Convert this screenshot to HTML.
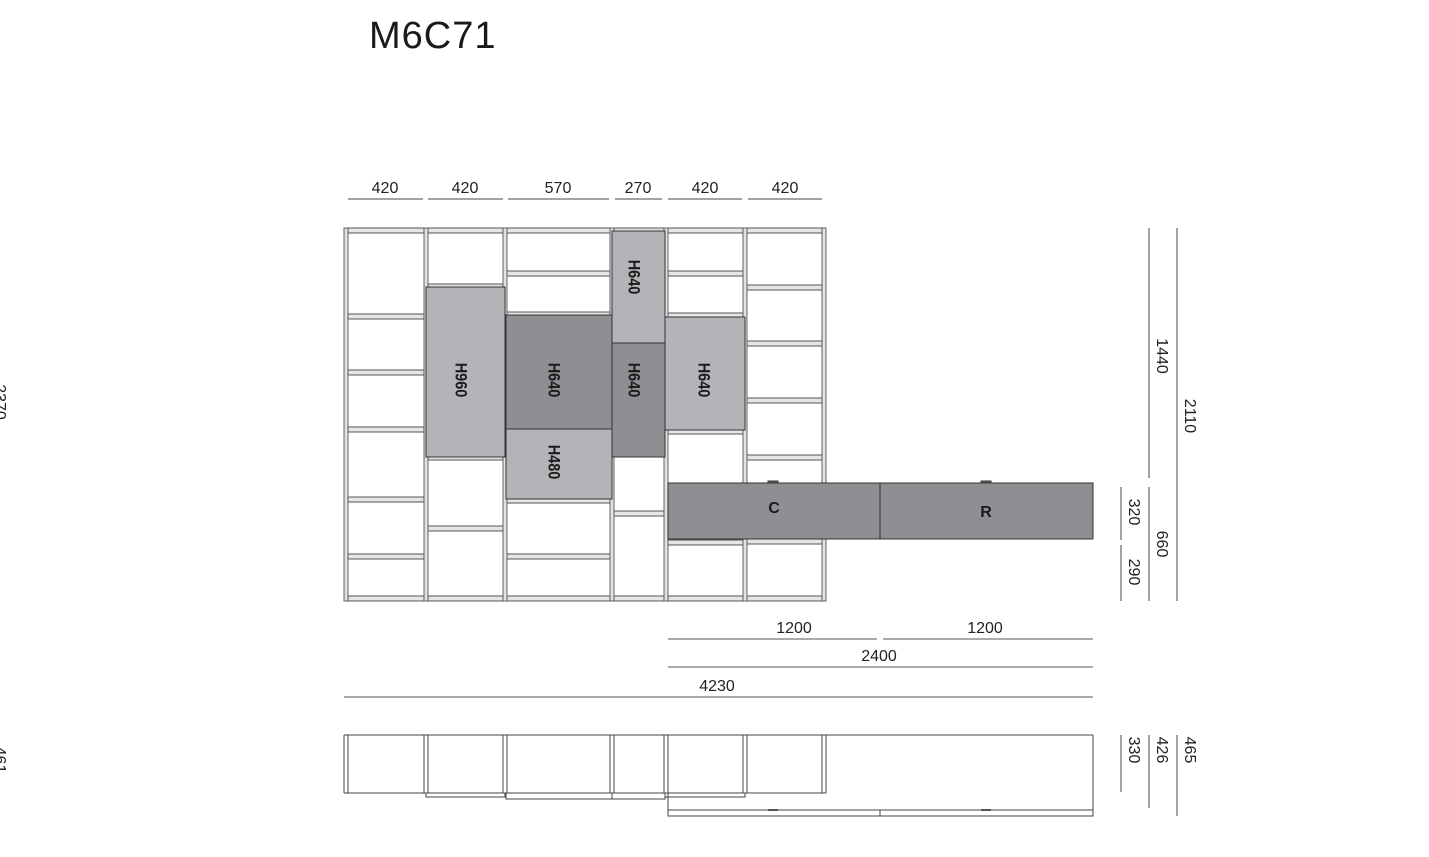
<!DOCTYPE html>
<html><head><meta charset="utf-8"><style>
html,body{margin:0;padding:0;background:#fff;width:1429px;height:857px;overflow:hidden}
svg{display:block}
.d{font-family:"Liberation Sans",sans-serif;font-size:16px;fill:#222}
.b{font-family:"Liberation Sans",sans-serif;font-size:17px;font-weight:bold;fill:#1a1a1a}
</style></head><body>
<svg width="1429" height="857" viewBox="0 0 1429 857" xmlns="http://www.w3.org/2000/svg">
<text x="369" y="48" font-family="Liberation Sans,sans-serif" font-size="38" letter-spacing="1" fill="#1a1a1a">M6C71</text>

<g stroke="#444" stroke-width="1">
<line x1="348" y1="199" x2="423" y2="199"/><line x1="428" y1="199" x2="503" y2="199"/>
<line x1="508" y1="199" x2="609" y2="199"/><line x1="615" y1="199" x2="662" y2="199"/>
<line x1="668" y1="199" x2="742" y2="199"/><line x1="748" y1="199" x2="822" y2="199"/>
</g>
<g class="d" text-anchor="middle">
<text x="385" y="193">420</text><text x="465" y="193">420</text><text x="558" y="193">570</text>
<text x="638" y="193">270</text><text x="705" y="193">420</text><text x="785" y="193">420</text>
</g>

<g fill="#e6e6e6" stroke="#444" stroke-width="0.9">
<rect x="348" y="228" width="76" height="5"/><rect x="348" y="314" width="76" height="5"/><rect x="348" y="370" width="76" height="5"/><rect x="348" y="427" width="76" height="5"/><rect x="348" y="497" width="76" height="5"/><rect x="348" y="554" width="76" height="5"/><rect x="348" y="596" width="76" height="5"/>
<rect x="428" y="228" width="75" height="5"/><rect x="428" y="284" width="75" height="5"/><rect x="428" y="455" width="75" height="5"/><rect x="428" y="526" width="75" height="5"/><rect x="428" y="596" width="75" height="5"/>
<rect x="507" y="228" width="103" height="5"/><rect x="507" y="271" width="103" height="5"/><rect x="507" y="312" width="103" height="5"/><rect x="507" y="498" width="103" height="5"/><rect x="507" y="554" width="103" height="5"/><rect x="507" y="596" width="103" height="5"/>
<rect x="614" y="228" width="50" height="5"/><rect x="614" y="511" width="50" height="5"/><rect x="614" y="596" width="50" height="5"/>
<rect x="668" y="228" width="75" height="5"/><rect x="668" y="271" width="75" height="5"/><rect x="668" y="313" width="75" height="5"/><rect x="668" y="429" width="75" height="5"/><rect x="668" y="540" width="75" height="5"/><rect x="668" y="596" width="75" height="5"/>
<rect x="747" y="228" width="75" height="5"/><rect x="747" y="285" width="75" height="5"/><rect x="747" y="341" width="75" height="5"/><rect x="747" y="398" width="75" height="5"/><rect x="747" y="455" width="75" height="5"/><rect x="747" y="539" width="75" height="5"/><rect x="747" y="596" width="75" height="5"/>
</g>
<g fill="#e2e2e2" stroke="#555" stroke-width="0.9">
<rect x="344" y="228" width="4" height="373"/><rect x="424" y="228" width="4" height="373"/>
<rect x="503" y="228" width="4" height="373"/><rect x="610" y="228" width="4" height="373"/>
<rect x="664" y="228" width="4" height="373"/><rect x="743" y="228" width="4" height="373"/>
<rect x="822" y="228" width="4" height="373"/>
</g>

<g stroke="#333" stroke-width="1">
<rect x="426" y="287" width="79" height="170" fill="#b3b4b7"/>
<rect x="506" y="315" width="106" height="114" fill="#8e8f92"/>
<rect x="506" y="429" width="106" height="70" fill="#b3b4b7"/>
<rect x="612" y="231" width="53" height="112" fill="#b3b4b7"/>
<rect x="612" y="343" width="53" height="114" fill="#8e8f92"/>
<rect x="665" y="317" width="80" height="113" fill="#b3b4b7"/>
<rect x="668" y="483" width="212" height="56" fill="#8e8f92"/>
<rect x="880" y="483" width="213" height="56" fill="#8e8f92"/>
<rect x="768" y="481" width="10" height="2" fill="#666"/><rect x="981" y="481" width="10" height="2" fill="#666"/>
</g>
<g class="b" text-anchor="middle">
<text transform="translate(460,380) rotate(90) scale(0.85,1)" dominant-baseline="middle">H960</text>
<text transform="translate(553,380) rotate(90) scale(0.85,1)" dominant-baseline="middle">H640</text>
<text transform="translate(553,462) rotate(90) scale(0.85,1)" dominant-baseline="middle">H480</text>
<text transform="translate(633,277) rotate(90) scale(0.85,1)" dominant-baseline="middle">H640</text>
<text transform="translate(633,380) rotate(90) scale(0.85,1)" dominant-baseline="middle">H640</text>
<text transform="translate(703,380) rotate(90) scale(0.85,1)" dominant-baseline="middle">H640</text>
<text x="774" y="513" font-size="16">C</text><text x="986" y="517" font-size="16">R</text>
</g>

<g stroke="#444" stroke-width="1">
<line x1="1149" y1="228" x2="1149" y2="478"/><line x1="1149" y1="487" x2="1149" y2="601"/>
<line x1="1177" y1="228" x2="1177" y2="601"/>
<line x1="1121" y1="487" x2="1121" y2="540"/><line x1="1121" y1="545" x2="1121" y2="601"/>
<line x1="1121" y1="735" x2="1121" y2="792"/><line x1="1149" y1="735" x2="1149" y2="808"/><line x1="1177" y1="735" x2="1177" y2="816"/>
</g>
<g class="d" text-anchor="middle">
<text transform="translate(1157,356) rotate(90)">1440</text>
<text transform="translate(1185,416) rotate(90)">2110</text>
<text transform="translate(1129,512) rotate(90)">320</text>
<text transform="translate(1129,572) rotate(90)">290</text>
<text transform="translate(1157,544) rotate(90)">660</text>
<text transform="translate(1129,750) rotate(90)">330</text>
<text transform="translate(1157,750) rotate(90)">426</text>
<text transform="translate(1185,750) rotate(90)">465</text>
<text transform="translate(-5,402) rotate(90)">2370</text>
<text transform="translate(-5,760) rotate(90)">461</text>
</g>

<g stroke="#555" stroke-width="1">
<line x1="668" y1="639" x2="877" y2="639"/><line x1="883" y1="639" x2="1093" y2="639"/>
<line x1="668" y1="667" x2="1093" y2="667"/><line x1="344" y1="697" x2="1093" y2="697"/>
</g>
<g class="d" text-anchor="middle">
<text x="794" y="633">1200</text><text x="985" y="633">1200</text>
<text x="879" y="661">2400</text><text x="717" y="691">4230</text>
</g>

<g fill="none" stroke="#444" stroke-width="1">
<line x1="344" y1="735" x2="1093" y2="735"/>
<line x1="344" y1="793" x2="826" y2="793"/>
<line x1="344" y1="735" x2="344" y2="793"/>
<line x1="348" y1="735" x2="348" y2="793"/>
<line x1="424" y1="735" x2="424" y2="793"/><line x1="428" y1="735" x2="428" y2="793"/>
<line x1="503" y1="735" x2="503" y2="793"/><line x1="507" y1="735" x2="507" y2="793"/>
<line x1="610" y1="735" x2="610" y2="793"/><line x1="614" y1="735" x2="614" y2="793"/>
<line x1="664" y1="735" x2="664" y2="793"/><line x1="668" y1="735" x2="668" y2="816"/>
<line x1="743" y1="735" x2="743" y2="793"/><line x1="747" y1="735" x2="747" y2="793"/>
<line x1="822" y1="735" x2="822" y2="793"/><line x1="826" y1="735" x2="826" y2="793"/>
<line x1="1093" y1="735" x2="1093" y2="816"/>
<rect x="426" y="793" width="79" height="4"/>
<rect x="506" y="793" width="106" height="6"/>
<rect x="612" y="793" width="53" height="6"/>
<rect x="665" y="793" width="80" height="4"/>
<rect x="668" y="810" width="212" height="6"/><rect x="880" y="810" width="213" height="6"/>
</g>
<rect x="768" y="809" width="10" height="2" fill="#555"/><rect x="981" y="809" width="10" height="2" fill="#555"/>
</svg>
</body></html>
